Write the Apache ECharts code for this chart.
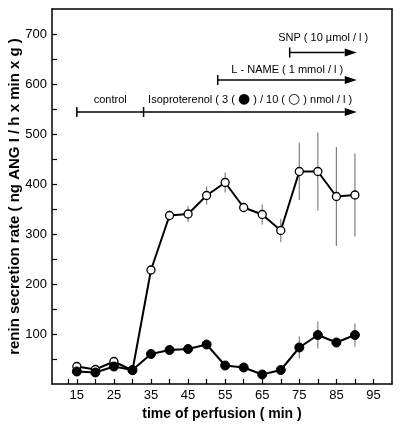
<!DOCTYPE html>
<html>
<head>
<meta charset="utf-8">
<script src="https://cdn.jsdelivr.net/npm/echarts@6/dist/echarts.min.js"></script>
<style>
html,body{margin:0;padding:0;background:#fff;}
#chart{width:403px;height:430px;}
</style>
</head>
<body>
<div id="chart"></div>
<script>
// ---- data ----
var times = [15, 20, 25, 30, 35, 40, 45, 50, 55, 60, 65, 70, 75, 80, 85, 90];
var openVals = [35, 29, 45, 27, 228, 337, 340, 377, 403, 353, 339, 307, 425, 425, 375, 378];
var openErr  = [0, 0, 0, 0, 0, 10, 16, 18, 20, 8, 20, 23, 57, 78, 99, 83];
var filledVals = [25, 23, 35, 28, 60, 68, 70, 79, 37, 33, 19, 28, 73, 98, 83, 98];
var filledErr  = [0, 0, 0, 0, 6, 4, 4, 4, 3, 3, 3, 3, 22, 27, 5, 23];
var xTickValues = [12.6, 15, 20, 25, 30, 35, 40, 45, 50, 55, 60, 65, 70, 75, 80, 85, 90, 95];
var xLabelValues = [15, 25, 35, 45, 55, 65, 75, 85, 95];
var yTickValues = [50, 100, 150, 200, 250, 300, 350, 400, 450, 500, 550, 600, 650, 700];
var yLabelValues = [100, 200, 300, 400, 500, 600, 700];
// annotation bars: start, end, level, arrow, label
var annStart = [15, 33, 53, 72.4];
var annEnd   = [33, 90.5, 90.5, 90.5];
var annLevel = [544, 544, 608, 663];
var annArrow = [0, 1, 1, 1];
var annTextGap = [12, 12, 10, 15];
var annLabels = [
  'control',
  'Isoproterenol ( 3 ( {c|●} ) / 10 ( {c|○} ) nmol / l )',
  'L - NAME ( 1 mmol / l )',
  'SNP ( 10 µmol / l )'
];

var FONT = '"Liberation Sans", Arial, Helvetica, sans-serif';

function errRender(params, api) {
  var x = api.value(0), y = api.value(1), e = api.value(2);
  if (!e) return null;
  var p1 = api.coord([x, y - e]);
  var p2 = api.coord([x, y + e]);
  return {
    type: 'line',
    shape: {x1: p1[0], y1: p1[1], x2: p2[0], y2: p2[1]},
    style: {stroke: '#808080', lineWidth: 1.2}
  };
}

function annRender(params, api) {
  var i = params.dataIndex;
  var s = api.coord([annStart[i], annLevel[i]]);
  var e = api.coord([annEnd[i], annLevel[i]]);
  var children = [];
  var headLen = annArrow[i] ? 12 : 0;
  children.push({type: 'line', shape: {x1: s[0], y1: s[1], x2: e[0] - headLen, y2: e[1]},
    style: {stroke: '#000', lineWidth: 1.5}});
  children.push({type: 'line', shape: {x1: s[0], y1: s[1] - 5, x2: s[0], y2: s[1] + 5},
    style: {stroke: '#000', lineWidth: 1.5}});
  if (annArrow[i]) {
    children.push({type: 'polygon', shape: {points: [[e[0] - headLen, e[1] - 4], [e[0], e[1]], [e[0] - headLen, e[1] + 4]]},
      style: {fill: '#000'}});
  }
  children.push({type: 'text', x: (s[0] + e[0]) / 2, y: s[1] - annTextGap[i],
    style: {text: annLabels[i], fill: '#000', fontSize: 11, fontFamily: FONT, align: 'center', verticalAlign: 'middle',
      rich: {c: {fontSize: 14, fill: '#000', fontFamily: 'DejaVu Sans', padding: [0, 0, 1, 0]}}}});
  return {type: 'group', children: children};
}

var chart = echarts.init(document.getElementById('chart'), null, {renderer: 'canvas'});
chart.setOption({
  animation: false,
  backgroundColor: '#fff',
  grid: {left: 52, right: 11, top: 9, bottom: 46, containLabel: false, outerBoundsMode: 'none'},
  xAxis: [{
    type: 'value', min: 8.3, max: 100,
    name: 'time of perfusion ( min )', nameLocation: 'middle', nameGap: 22,
    nameTextStyle: {fontFamily: FONT, fontSize: 14, fontWeight: 'bold', color: '#000', verticalAlign: 'top'},
    axisLine: {show: true, onZero: false, lineStyle: {color: '#000', width: 1.5}},
    axisTick: {show: true, inside: true, length: 5, customValues: xTickValues, lineStyle: {color: '#000', width: 1.2}},
    axisLabel: {customValues: xLabelValues, fontFamily: FONT, fontSize: 13, color: '#000', margin: 5},
    splitLine: {show: false}
  }, {
    type: 'value', min: 8.3, max: 100, position: 'top',
    axisLine: {show: true, onZero: false, lineStyle: {color: '#000', width: 1.5}},
    axisTick: {show: false}, axisLabel: {show: false}, splitLine: {show: false}
  }],
  yAxis: [{
    type: 'value', min: 0, max: 750,
    name: 'renin secretion rate ( ng ANG I / h x min x g )', nameLocation: 'middle', nameGap: 37, nameRotate: 90,
    nameMoveOverlap: false,
    nameTextStyle: {fontFamily: FONT, fontSize: 15, fontWeight: 'bold', color: '#000', verticalAlign: 'middle'},
    axisLine: {show: true, onZero: false, lineStyle: {color: '#000', width: 1.5}},
    axisTick: {show: true, inside: true, length: 5, customValues: yTickValues, lineStyle: {color: '#000', width: 1.2}},
    axisLabel: {customValues: yLabelValues, fontFamily: FONT, fontSize: 13, color: '#000', margin: 5},
    splitLine: {show: false}
  }, {
    type: 'value', min: 0, max: 750, position: 'right',
    axisLine: {show: true, onZero: false, lineStyle: {color: '#000', width: 1.5}},
    axisTick: {show: false}, axisLabel: {show: false}, splitLine: {show: false}
  }],
  series: [
    {type: 'custom', renderItem: errRender, data: times.map(function (t, i) { return [t, openVals[i], openErr[i]]; }), z: 1},
    {type: 'custom', renderItem: errRender, data: times.map(function (t, i) { return [t, filledVals[i], filledErr[i]]; }), z: 1},
    {type: 'line', data: times.map(function (t, i) { return [t, openVals[i]]; }),
      symbol: 'circle', symbolSize: 8, showSymbol: true,
      lineStyle: {color: '#000', width: 2},
      itemStyle: {color: '#fff', borderColor: '#000', borderWidth: 1.3}, z: 3},
    {type: 'line', data: times.map(function (t, i) { return [t, filledVals[i]]; }),
      symbol: 'circle', symbolSize: 9, showSymbol: true,
      lineStyle: {color: '#000', width: 2},
      itemStyle: {color: '#000', borderColor: '#000', borderWidth: 1}, z: 4},
    {type: 'custom', renderItem: annRender, data: annStart.map(function (s, i) { return [s, annLevel[i]]; }), z: 5, clip: false}
  ]
});
</script>
</body>
</html>
